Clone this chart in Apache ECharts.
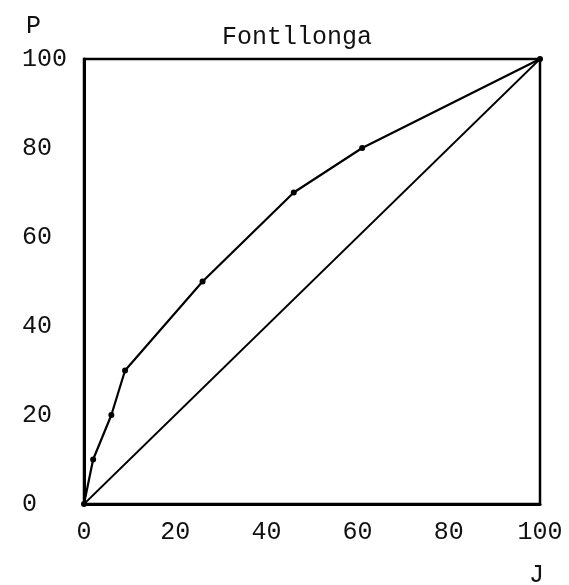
<!DOCTYPE html>
<html>
<head>
<meta charset="utf-8">
<script src="https://cdn.jsdelivr.net/npm/echarts@6/dist/echarts.min.js"></script>
<style>html,body{margin:0;padding:0;background:#fff;}#c{width:569px;height:585px;}</style>
</head>
<body>
<div id="c"></div>
<script>
const chartTitle = 'Fontllonga';
const xAxisName = 'J';
const yAxisName = 'P';
const jValues = [0, 2, 6, 9, 26, 46, 61, 100];
const pValues = [0, 10, 20, 30, 50, 70, 80, 100];
const equalityJ = [0, 100];
const equalityP = [0, 100];
const tickValues = [0, 20, 40, 60, 80, 100];

const font = 'Liberation Mono';
const chart = echarts.init(document.getElementById('c'), null, {renderer: 'canvas'});
const curve = jValues.map((j, i) => [j, pValues[i]]);
const diag = equalityJ.map((j, i) => [j, equalityP[i]]);

chart.setOption({
  animation: false,
  backgroundColor: '#fff',
  title: {
    text: chartTitle,
    left: 292, top: 20, textAlign: 'center',
    textStyle: {fontFamily: font, fontSize: 25, fontWeight: 'normal', color: '#111'}
  },
  grid: {left: 84, top: 59, width: 456, height: 445, show: true, borderColor: '#000', borderWidth: 2.5, backgroundColor: 'transparent'},
  xAxis: {
    type: 'value', min: tickValues[0], max: tickValues[tickValues.length - 1], interval: 20,
    axisLine: {show: true, lineStyle: {color: '#000', width: 3}},
    axisTick: {show: false}, splitLine: {show: false},
    axisLabel: {margin: 16, fontFamily: font, fontSize: 25, color: '#111'}
  },
  yAxis: {
    type: 'value', min: tickValues[0], max: tickValues[tickValues.length - 1], interval: 20,
    axisLine: {show: true, lineStyle: {color: '#000', width: 3}},
    axisTick: {show: false}, splitLine: {show: false},
    axisLabel: {margin: 62, align: 'left', fontFamily: font, fontSize: 25, color: '#111'}
  },
  graphic: [
    {type: 'text', left: 26, top: 14, style: {text: yAxisName, font: '25px "' + font + '"', fill: '#111'}},
    {type: 'text', left: 529, top: 563, style: {text: xAxisName, font: '25px "' + font + '"', fill: '#111'}}
  ],
  series: [
    {type: 'line', data: diag, symbol: 'none', lineStyle: {color: '#000', width: 1.8}, z: 3},
    {type: 'line', data: curve, symbol: 'circle', symbolSize: 6, itemStyle: {color: '#000'}, lineStyle: {color: '#000', width: 2.2}, z: 4}
  ]
});
</script>
</body>
</html>
